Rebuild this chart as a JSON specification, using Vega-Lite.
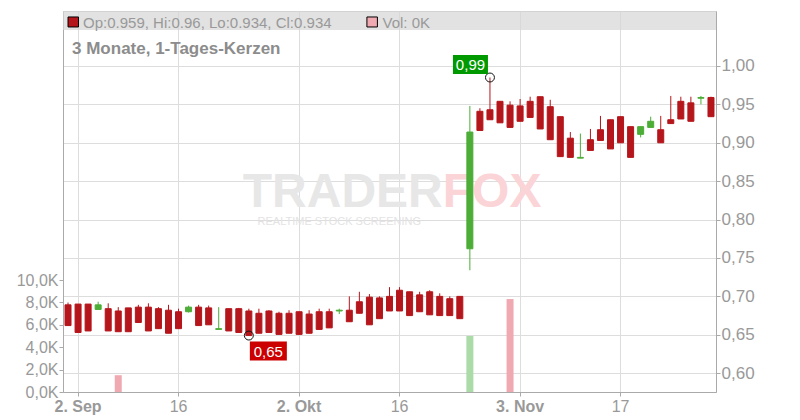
{
  "$schema": "https://vega.github.io/schema/vega-lite/v6.json",
  "width": 653,
  "height": 381,
  "autosize": "none",
  "padding": {"left": 63, "top": 11, "right": 84, "bottom": 28},
  "background": "white",
  "config": {"view": {"stroke": "#cccccc"}, "font": "Liberation Sans"},
  "datasets": {
    "candles": [
      {"d": "2025-09-01", "o": 0.689, "h": 0.692, "l": 0.662, "c": 0.662, "v": 0},
      {"d": "2025-09-02", "o": 0.690, "h": 0.690, "l": 0.653, "c": 0.653, "v": 0},
      {"d": "2025-09-03", "o": 0.690, "h": 0.690, "l": 0.655, "c": 0.655, "v": 0},
      {"d": "2025-09-04", "o": 0.683, "h": 0.693, "l": 0.683, "c": 0.689, "v": 0},
      {"d": "2025-09-05", "o": 0.684, "h": 0.691, "l": 0.655, "c": 0.655, "v": 0},
      {"d": "2025-09-08", "o": 0.681, "h": 0.686, "l": 0.654, "c": 0.654, "v": 1500},
      {"d": "2025-09-09", "o": 0.685, "h": 0.685, "l": 0.654, "c": 0.654, "v": 0},
      {"d": "2025-09-10", "o": 0.686, "h": 0.689, "l": 0.666, "c": 0.666, "v": 0},
      {"d": "2025-09-11", "o": 0.686, "h": 0.691, "l": 0.655, "c": 0.655, "v": 0},
      {"d": "2025-09-12", "o": 0.684, "h": 0.686, "l": 0.658, "c": 0.658, "v": 0},
      {"d": "2025-09-15", "o": 0.682, "h": 0.689, "l": 0.652, "c": 0.652, "v": 0},
      {"d": "2025-09-16", "o": 0.680, "h": 0.684, "l": 0.658, "c": 0.658, "v": 0},
      {"d": "2025-09-17", "o": 0.680, "h": 0.688, "l": 0.679, "c": 0.686, "v": 0},
      {"d": "2025-09-18", "o": 0.686, "h": 0.689, "l": 0.662, "c": 0.662, "v": 0},
      {"d": "2025-09-19", "o": 0.685, "h": 0.688, "l": 0.663, "c": 0.663, "v": 0},
      {"d": "2025-09-22", "o": 0.657, "h": 0.686, "l": 0.657, "c": 0.658, "v": 0},
      {"d": "2025-09-23", "o": 0.684, "h": 0.684, "l": 0.655, "c": 0.655, "v": 0},
      {"d": "2025-09-24", "o": 0.684, "h": 0.685, "l": 0.653, "c": 0.653, "v": 0},
      {"d": "2025-09-25", "o": 0.681, "h": 0.684, "l": 0.649, "c": 0.649, "v": 0},
      {"d": "2025-09-26", "o": 0.678, "h": 0.684, "l": 0.652, "c": 0.652, "v": 0},
      {"d": "2025-09-29", "o": 0.681, "h": 0.682, "l": 0.653, "c": 0.653, "v": 0},
      {"d": "2025-09-30", "o": 0.678, "h": 0.680, "l": 0.6505, "c": 0.6505, "v": 0},
      {"d": "2025-10-01", "o": 0.678, "h": 0.682, "l": 0.652, "c": 0.652, "v": 0},
      {"d": "2025-10-02", "o": 0.680, "h": 0.680, "l": 0.6505, "c": 0.6505, "v": 0},
      {"d": "2025-10-03", "o": 0.677, "h": 0.682, "l": 0.652, "c": 0.652, "v": 0},
      {"d": "2025-10-06", "o": 0.680, "h": 0.684, "l": 0.657, "c": 0.657, "v": 0},
      {"d": "2025-10-07", "o": 0.680, "h": 0.684, "l": 0.659, "c": 0.659, "v": 0},
      {"d": "2025-10-08", "o": 0.681, "h": 0.684, "l": 0.677, "c": 0.682, "v": 0},
      {"d": "2025-10-09", "o": 0.682, "h": 0.700, "l": 0.667, "c": 0.667, "v": 0},
      {"d": "2025-10-10", "o": 0.693, "h": 0.706, "l": 0.678, "c": 0.678, "v": 0},
      {"d": "2025-10-13", "o": 0.699, "h": 0.703, "l": 0.663, "c": 0.663, "v": 0},
      {"d": "2025-10-14", "o": 0.698, "h": 0.700, "l": 0.671, "c": 0.671, "v": 0},
      {"d": "2025-10-15", "o": 0.700, "h": 0.712, "l": 0.681, "c": 0.681, "v": 0},
      {"d": "2025-10-16", "o": 0.708, "h": 0.712, "l": 0.681, "c": 0.681, "v": 0},
      {"d": "2025-10-17", "o": 0.706, "h": 0.706, "l": 0.675, "c": 0.675, "v": 0},
      {"d": "2025-10-20", "o": 0.702, "h": 0.706, "l": 0.680, "c": 0.680, "v": 0},
      {"d": "2025-10-21", "o": 0.706, "h": 0.708, "l": 0.676, "c": 0.676, "v": 0},
      {"d": "2025-10-22", "o": 0.700, "h": 0.704, "l": 0.675, "c": 0.675, "v": 0},
      {"d": "2025-10-23", "o": 0.697, "h": 0.700, "l": 0.675, "c": 0.675, "v": 0},
      {"d": "2025-10-24", "o": 0.700, "h": 0.700, "l": 0.671, "c": 0.671, "v": 0},
      {"d": "2025-10-27", "o": 0.762, "h": 0.948, "l": 0.734, "c": 0.914, "v": 5000},
      {"d": "2025-10-28", "o": 0.941, "h": 0.945, "l": 0.916, "c": 0.916, "v": 0},
      {"d": "2025-10-29", "o": 0.943, "h": 0.985, "l": 0.930, "c": 0.930, "v": 0},
      {"d": "2025-10-30", "o": 0.954, "h": 0.954, "l": 0.926, "c": 0.926, "v": 0},
      {"d": "2025-10-31", "o": 0.949, "h": 0.954, "l": 0.920, "c": 0.920, "v": 8300},
      {"d": "2025-11-03", "o": 0.948, "h": 0.957, "l": 0.928, "c": 0.928, "v": 0},
      {"d": "2025-11-04", "o": 0.954, "h": 0.960, "l": 0.933, "c": 0.933, "v": 0},
      {"d": "2025-11-05", "o": 0.960, "h": 0.960, "l": 0.918, "c": 0.918, "v": 0},
      {"d": "2025-11-06", "o": 0.947, "h": 0.956, "l": 0.904, "c": 0.904, "v": 0},
      {"d": "2025-11-07", "o": 0.934, "h": 0.934, "l": 0.882, "c": 0.882, "v": 0},
      {"d": "2025-11-10", "o": 0.906, "h": 0.914, "l": 0.881, "c": 0.881, "v": 0},
      {"d": "2025-11-11", "o": 0.880, "h": 0.912, "l": 0.880, "c": 0.881, "v": 0},
      {"d": "2025-11-12", "o": 0.904, "h": 0.918, "l": 0.890, "c": 0.890, "v": 0},
      {"d": "2025-11-13", "o": 0.917, "h": 0.935, "l": 0.903, "c": 0.903, "v": 0},
      {"d": "2025-11-14", "o": 0.930, "h": 0.930, "l": 0.892, "c": 0.892, "v": 0},
      {"d": "2025-11-17", "o": 0.934, "h": 0.934, "l": 0.900, "c": 0.900, "v": 0},
      {"d": "2025-11-18", "o": 0.921, "h": 0.921, "l": 0.881, "c": 0.881, "v": 0},
      {"d": "2025-11-19", "o": 0.911, "h": 0.921, "l": 0.907, "c": 0.921, "v": 0},
      {"d": "2025-11-20", "o": 0.920, "h": 0.934, "l": 0.920, "c": 0.928, "v": 0},
      {"d": "2025-11-21", "o": 0.917, "h": 0.935, "l": 0.900, "c": 0.900, "v": 0},
      {"d": "2025-11-24", "o": 0.930, "h": 0.961, "l": 0.925, "c": 0.925, "v": 0},
      {"d": "2025-11-25", "o": 0.954, "h": 0.960, "l": 0.931, "c": 0.931, "v": 0},
      {"d": "2025-11-26", "o": 0.952, "h": 0.960, "l": 0.928, "c": 0.928, "v": 0},
      {"d": "2025-11-27", "o": 0.958, "h": 0.961, "l": 0.950, "c": 0.959, "v": 0},
      {"d": "2025-11-28", "o": 0.959, "h": 0.960, "l": 0.934, "c": 0.934, "v": 0}
    ],
    "lowmark": [{"d": "2025-09-25", "p": 0.649, "t": "0,65"}],
    "highmark": [{"d": "2025-10-29", "p": 0.985, "t": "0,99"}],
    "one": [{"k": 1}]
  },
  "resolve": {"scale": {"y": "independent"}},
  "layer": [
    {
      "data": {"name": "candles"},
      "mark": {"type": "bar", "width": 7},
      "encoding": {
        "x": {
          "field": "d", "type": "ordinal", "scale": {"paddingInner": 0, "paddingOuter": 0},
          "axis": {
            "title": null, "grid": true, "gridColor": "#dddddd", "bandPosition": 0.5,
            "values": ["2025-09-02", "2025-09-16", "2025-10-02", "2025-10-16", "2025-11-03", "2025-11-17"],
            "labelExpr": "datum.value == '2025-09-02' ? '2. Sep' : datum.value == '2025-10-02' ? '2. Okt' : datum.value == '2025-11-03' ? '3. Nov' : datum.value == '2025-11-17' ? '17' : '16'",
            "labelAngle": 0, "labelFontSize": 16, "labelColor": "#999999",
            "labelFontWeight": {"condition": {"test": "indexof(['2025-09-02','2025-10-02','2025-11-03'], datum.value) >= 0", "value": "bold"}, "value": "normal"},
            "tickSize": 4, "tickColor": "#aaaaaa", "domainColor": "#aaaaaa", "labelPadding": 2
          }
        },
        "y": {
          "field": "v", "type": "quantitative",
          "scale": {"domain": [0, 34018], "nice": false, "zero": true},
          "axis": {
            "orient": "left", "title": null, "grid": false, "domain": true, "domainColor": "#aaaaaa",
            "values": [0, 2000, 4000, 6000, 8000, 10000],
            "labelExpr": "replace(format(datum.value / 1000, '.1f'), '.', ',') + 'K'",
            "tickSize": 4, "tickColor": "#aaaaaa", "labelPadding": 1,
            "labelFontSize": 16, "labelColor": "#999999"
          }
        },
        "color": {"condition": {"test": "datum.c >= datum.o", "value": "#abdca8"}, "value": "#f0a9b1"}
      }
    },
    {
      "layer": [
        {
          "data": {"name": "one"},
          "mark": {"type": "rect", "fill": "#d6d6d6", "opacity": 0.7},
          "encoding": {
            "y": {"datum": 1.0469, "type": "quantitative", "scale": {"domain": [0.5755, 1.0716], "nice": false, "zero": false},
              "axis": {
                "orient": "right", "title": null, "grid": true, "gridColor": "#dddddd",
                "values": [0.6, 0.65, 0.7, 0.75, 0.8, 0.85, 0.9, 0.95, 1.0],
                "labelExpr": "replace(format(datum.value, '.2f'), '.', ',')",
                "tickSize": 4, "tickColor": "#aaaaaa", "domainColor": "#aaaaaa",
                "labelPadding": 1, "labelFontSize": 17, "labelColor": "#999999"
              }
            },
            "y2": {"datum": 1.0716}
          }
        },
        {
          "data": {"name": "one"},
          "mark": {"type": "text", "align": "right", "baseline": "alphabetic", "dx": 3, "fontSize": 48, "fontWeight": "bold", "fill": "#e7e7e7"},
          "encoding": {
            "x": {"datum": "2025-10-22", "type": "ordinal"},
            "y": {"datum": 0.8164, "type": "quantitative"},
            "text": {"value": "TRADER"}
          }
        },
        {
          "data": {"name": "one"},
          "mark": {"type": "text", "align": "left", "baseline": "alphabetic", "dx": 3, "fontSize": 48, "fontWeight": "bold", "fill": "#fbd4d7"},
          "encoding": {
            "x": {"datum": "2025-10-22", "type": "ordinal"},
            "y": {"datum": 0.8164, "type": "quantitative"},
            "text": {"value": "FOX"}
          }
        },
        {
          "data": {"name": "one"},
          "mark": {"type": "text", "align": "center", "baseline": "alphabetic", "fontSize": 11, "fill": "#e3e3e3"},
          "encoding": {
            "x": {"datum": "2025-10-08", "type": "ordinal"},
            "y": {"datum": 0.7930, "type": "quantitative"},
            "text": {"value": "REALTIME STOCK SCREENING"}
          }
        },
        {
          "data": {"name": "candles"},
          "mark": {"type": "rule", "strokeWidth": 1},
          "encoding": {
            "x": {"field": "d", "type": "ordinal"},
            "y": {"field": "l", "type": "quantitative"},
            "y2": {"field": "h"},
            "color": {"condition": {"test": "datum.c >= datum.o", "value": "#4cad37"}, "value": "#b5161b"}
          }
        },
        {
          "data": {"name": "candles"},
          "mark": {"type": "bar", "width": 6, "strokeWidth": 1},
          "encoding": {
            "x": {"field": "d", "type": "ordinal"},
            "y": {"field": "o", "type": "quantitative"},
            "y2": {"field": "c"},
            "fill": {"condition": {"test": "datum.c >= datum.o", "value": "#4cad37"}, "value": "#b5161b"},
            "stroke": {"condition": {"test": "datum.c >= datum.o", "value": "#4cad37"}, "value": "#b5161b"}
          }
        },
        {
          "data": {"name": "lowmark"},
          "layer": [
            {
              "mark": {"type": "point", "shape": "circle", "size": 80, "filled": false, "stroke": "#111111", "strokeWidth": 1, "opacity": 1},
              "encoding": {"x": {"field": "d", "type": "ordinal"}, "y": {"field": "p", "type": "quantitative"}}
            },
            {
              "mark": {"type": "point", "shape": "M0.1,0.6H3.8V2.5H0.1Z", "size": 400, "filled": true, "fill": "#cc0000", "strokeWidth": 0, "opacity": 1},
              "encoding": {"x": {"field": "d", "type": "ordinal"}, "y": {"field": "p", "type": "quantitative"}}
            },
            {
              "mark": {"type": "text", "align": "center", "baseline": "middle", "dx": 19.5, "dy": 16, "fontSize": 15, "fill": "white"},
              "encoding": {"x": {"field": "d", "type": "ordinal"}, "y": {"field": "p", "type": "quantitative"}, "text": {"field": "t"}}
            }
          ]
        },
        {
          "data": {"name": "highmark"},
          "layer": [
            {
              "mark": {"type": "point", "shape": "circle", "size": 80, "filled": false, "stroke": "#111111", "strokeWidth": 1, "opacity": 1},
              "encoding": {"x": {"field": "d", "type": "ordinal"}, "y": {"field": "p", "type": "quantitative"}}
            },
            {
              "mark": {"type": "point", "shape": "M-3.7,-2.25H-0.2V-0.35H-3.7Z", "size": 400, "filled": true, "fill": "#009a00", "strokeWidth": 0, "opacity": 1},
              "encoding": {"x": {"field": "d", "type": "ordinal"}, "y": {"field": "p", "type": "quantitative"}}
            },
            {
              "mark": {"type": "text", "align": "center", "baseline": "middle", "dx": -19.5, "dy": -13, "fontSize": 15, "fill": "white"},
              "encoding": {"x": {"field": "d", "type": "ordinal"}, "y": {"field": "p", "type": "quantitative"}, "text": {"field": "t"}}
            }
          ]
        },
        {
          "data": {"name": "one"},
          "mark": {"type": "point", "shape": "M0,-0.5H1.05V0.5H0Z", "size": 400, "filled": true, "fill": "#b5161b", "stroke": "#000000", "strokeWidth": 1, "opacity": 1},
          "encoding": {
            "x": {"datum": "2025-09-01", "type": "ordinal"},
            "y": {"datum": 1.0573, "type": "quantitative"}
          }
        },
        {
          "data": {"name": "one"},
          "mark": {"type": "text", "align": "left", "baseline": "alphabetic", "dx": 5, "fontSize": 15, "fill": "#999999"},
          "encoding": {
            "x": {"datum": "2025-09-02", "type": "ordinal"},
            "y": {"datum": 1.0501, "type": "quantitative"},
            "text": {"value": "Op:0.959, Hi:0.96, Lo:0.934, Cl:0.934"}
          }
        },
        {
          "data": {"name": "one"},
          "mark": {"type": "point", "shape": "M-0.25,-0.5H0.8V0.5H-0.25Z", "size": 400, "filled": true, "fill": "#f0a9b1", "stroke": "#000000", "strokeWidth": 1, "opacity": 1},
          "encoding": {
            "x": {"datum": "2025-10-13", "type": "ordinal"},
            "y": {"datum": 1.0573, "type": "quantitative"}
          }
        },
        {
          "data": {"name": "one"},
          "mark": {"type": "text", "align": "left", "baseline": "alphabetic", "dx": 3, "fontSize": 15, "fill": "#999999"},
          "encoding": {
            "x": {"datum": "2025-10-14", "type": "ordinal"},
            "y": {"datum": 1.0501, "type": "quantitative"},
            "text": {"value": "Vol: 0K"}
          }
        },
        {
          "data": {"name": "one"},
          "mark": {"type": "text", "align": "left", "baseline": "alphabetic", "dx": 4, "fontSize": 17, "fontWeight": "bold", "fill": "#8c8c8c"},
          "encoding": {
            "x": {"datum": "2025-09-01", "type": "ordinal"},
            "y": {"datum": 1.0156, "type": "quantitative"},
            "text": {"value": "3 Monate, 1-Tages-Kerzen"}
          }
        }
      ]
    }
  ]
}
